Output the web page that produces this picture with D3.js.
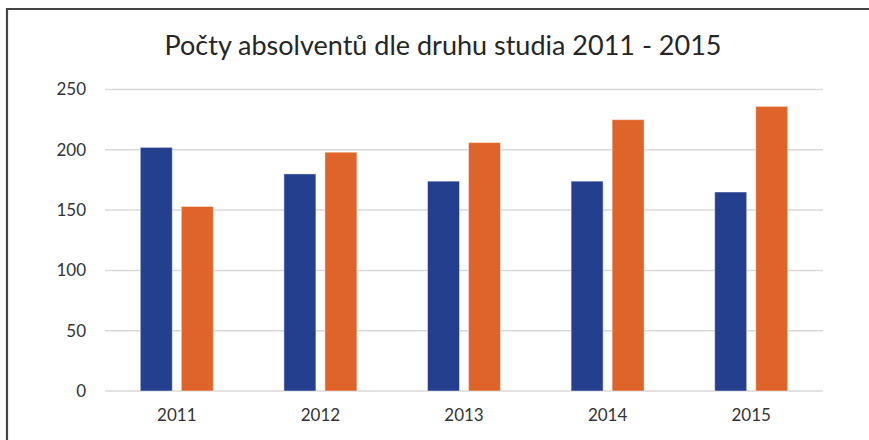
<!DOCTYPE html>
<html><head><meta charset="utf-8">
<script src="https://cdn.jsdelivr.net/npm/d3@7"></script>
<style>body{margin:0;background:#fff}svg{display:block}</style>
</head><body>
<svg id="c" width="869" height="440"></svg>
<script>
const title = "Počty absolventů dle druhu studia 2011 - 2015";
const years = ["2011","2012","2013","2014","2015"];
const seriesNames = ["A","B"];
const seriesA = [202,180,174,174,165];
const seriesB = [153,198,206,225,236];
const yTicks = [0,50,100,150,200,250];
const colors = ["#253F8F","#DF6429"];

(function(){
const svg = d3.select("#c");
const W=869,H=440;
const font = "Lato, 'Open Sans', sans-serif";
svg.append("rect").attr("width",W).attr("height",H).attr("fill","#fff");
// border (top + left)
svg.append("path").attr("d","M7,"+H+" V9 H"+W).attr("fill","none").attr("stroke","#444").attr("stroke-width",2.2);

const pLeft=105,pRight=823,pTop=89.5,pBottom=391;
const y = d3.scaleLinear().domain([0,250]).range([pBottom,pTop]);
const x0 = d3.scaleBand().domain(years).range([pLeft,pRight]).paddingInner(0).paddingOuter(0);
const x1 = d3.scaleBand().domain(seriesNames).range([0,x0.bandwidth()]).paddingInner(0.2195).paddingOuter(0.861);

// gridlines
svg.append("g").selectAll("line").data(yTicks).join("line")
  .attr("x1",pLeft).attr("x2",pRight).attr("y1",d=>y(d)).attr("y2",d=>y(d))
  .attr("stroke","#d9d9d9").attr("stroke-width",1.5);

// y axis labels
const yAxis = d3.axisLeft(y).tickValues(yTicks).tickSize(0).tickPadding(19);
const gy = svg.append("g").attr("transform",`translate(${pLeft},0)`).call(yAxis);
gy.select(".domain").remove();
gy.selectAll("text").attr("font-family",font).attr("font-size",17).attr("fill","#333");

// x axis labels
const xAxis = d3.axisBottom(x0).tickSize(0).tickPadding(18);
const gx = svg.append("g").attr("transform",`translate(0,${pBottom})`).call(xAxis);
gx.select(".domain").remove();
gx.selectAll("text").attr("font-family",font).attr("font-size",17).attr("fill","#333");

const data = years.map((yr,i)=>({yr, vals:[{s:"A",v:seriesA[i],c:colors[0]},{s:"B",v:seriesB[i],c:colors[1]}]}));
svg.append("g").selectAll("g").data(data).join("g")
  .attr("transform",d=>`translate(${x0(d.yr)},0)`)
  .selectAll("rect").data(d=>d.vals).join("rect")
  .attr("x",d=>x1(d.s)).attr("width",x1.bandwidth())
  .attr("y",d=>y(d.v)).attr("height",d=>pBottom-y(d.v))
  .attr("fill",d=>d.c).attr("stroke","#fff").attr("stroke-opacity",0.45).attr("stroke-width",1);

svg.append("text").attr("x",(pLeft+pRight)/2-21).attr("y",55).attr("text-anchor","middle")
  .attr("font-family",font).attr("font-size",27).attr("fill","#262626").text(title);
})();
</script>
</body></html>
